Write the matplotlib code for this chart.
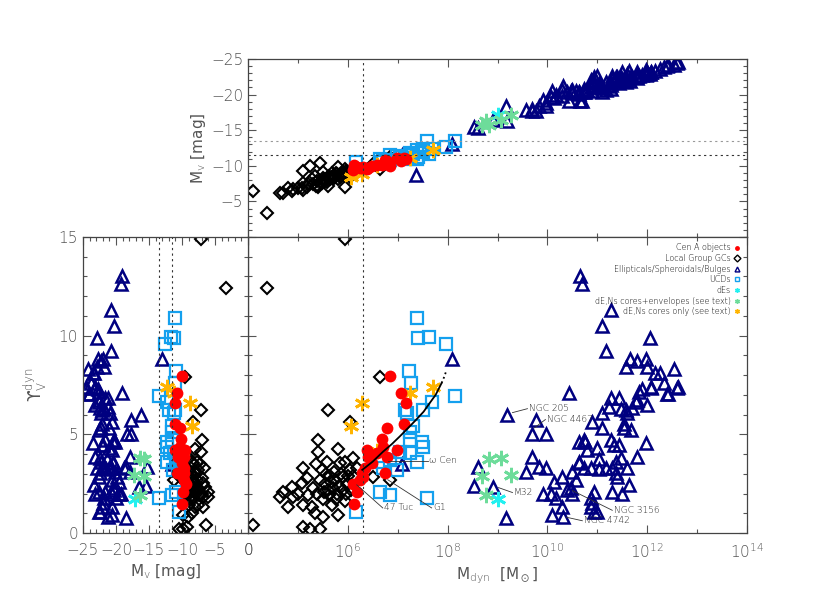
import matplotlib
matplotlib.use("Agg")
import matplotlib.pyplot as plt
import numpy as np
from matplotlib.lines import Line2D
from matplotlib.ticker import FixedLocator, MultipleLocator, NullFormatter, FixedFormatter

## data : log10(Mdyn/Msun) and dynamical M/L (V band)

cena_logm = [6.84, 7.06, 7.16, 6.78, 7.12, 6.68, 6.70, 6.98, 6.38, 6.78, 6.40, 6.48,
             6.34, 6.28, 6.74, 6.24, 6.10, 6.18, 6.12, 6.30, 6.58]
cena_ups = [7.97, 7.10, 6.60, 5.33, 5.50, 4.77, 4.37, 4.20, 4.20, 3.86, 3.86, 3.55,
            3.30, 3.05, 3.05, 2.70, 2.50, 2.10, 1.47, 2.84, 4.06]

gc_logm = [4.10, 5.60, 6.04, 5.40, 5.40, 5.80, 5.10, 5.58, 5.84, 6.10, 4.88, 4.64,
           4.80, 5.08, 5.30, 5.48, 5.64, 5.74, 5.90, 6.04, 4.90, 5.10, 5.38, 5.50,
           5.60, 5.78, 5.90, 5.68, 5.80, 5.34, 5.50, 5.10, 5.24, 5.44, 5.28, 5.18,
           5.54, 5.98, 6.18, 6.64, 6.50, 6.84, 4.38, 5.94,
           5.56, 5.66, 5.72, 5.82, 5.86, 5.96, 6.00, 5.62, 5.70, 5.52, 5.94, 6.06,
           5.76, 5.44, 5.20, 5.00, 4.70, 5.36, 5.94, 6.10]
gc_ups = [0.40, 6.24, 5.60, 4.70, 4.10, 4.26, 3.30, 3.60, 3.55, 3.80, 2.34, 1.80,
          1.30, 2.54, 2.30, 3.20, 2.90, 2.70, 2.84, 3.20, 1.80, 1.40, 2.00, 1.70,
          2.20, 2.00, 2.20, 1.40, 0.90, 1.00, 0.80, 0.30, 0.22, 0.22, 1.30, 2.80,
          2.50, 2.50, 3.30, 7.90, 2.84, 2.70, 12.40, 14.90,
          3.00, 2.60, 3.10, 2.40, 3.00, 2.00, 2.90, 1.90, 2.30, 2.10, 1.60, 2.20,
          1.70, 2.70, 1.90, 2.00, 2.10, 3.50, 3.60, 2.90]

ell_logm = [7.08, 8.08, 9.20, 9.78, 9.70, 9.98, 9.70, 9.84, 9.98, 9.58, 8.60, 8.52,
            8.90, 9.18, 9.92, 10.08, 10.18, 10.14, 10.30, 10.10, 10.32, 10.30, 10.48, 10.50,
            10.50, 10.64, 10.74, 10.88, 10.94, 10.88, 10.90, 11.00, 11.04, 11.18, 11.30, 11.40,
            11.30, 11.50, 11.60, 11.64, 11.38, 11.04, 11.28, 11.34, 11.44, 11.00, 10.80, 10.74,
            10.64, 10.64, 11.10, 10.90, 11.54, 11.68, 11.80, 11.98, 12.00, 11.80, 12.40, 12.60,
            12.34, 11.84, 12.08, 11.44, 11.28, 11.24, 11.58, 11.60, 11.70, 11.10, 11.38, 11.48,
            10.58, 10.40, 10.88, 10.94, 10.66, 10.70, 11.28, 11.10, 12.06, 11.18, 11.66, 11.80,
            11.98, 11.58, 12.00, 12.16, 12.26, 12.54, 11.90, 11.78, 11.48, 10.44, 10.76, 11.54,
            12.62, 12.42, 12.08, 7.36]
ell_ups = [3.50, 8.80, 6.00, 5.74, 5.00, 5.00, 3.86, 3.35, 3.30, 3.10, 3.35, 2.40,
           2.34, 0.76, 2.00, 2.00, 1.78, 2.60, 2.84, 0.90, 0.80, 1.30, 2.30, 2.00,
           3.10, 3.55, 3.30, 3.30, 2.10, 1.30, 1.50, 1.07, 3.25, 3.30, 3.30, 2.84,
           2.10, 2.00, 3.30, 2.44, 3.05, 3.76, 4.72, 4.47, 4.47, 4.30, 4.20, 4.72,
           4.60, 3.60, 5.33, 5.60, 5.33, 5.20, 3.86, 4.57, 6.50, 6.75, 7.05, 7.36,
           7.60, 7.15, 7.36, 6.85, 6.85, 6.40, 6.24, 6.10, 6.35, 6.10, 3.60, 3.80,
           2.70, 2.20, 1.78, 1.07, 13.0, 12.6, 11.3, 10.5, 9.90, 9.20, 8.80, 8.70,
           8.80, 8.40, 8.40, 8.10, 8.10, 8.30, 7.30, 6.65, 6.30, 7.10, 4.60, 5.50,
           7.40, 7.05, 7.40, 89.0]

ucd_logm = [7.38, 7.40, 7.62, 7.96, 7.22, 7.26, 8.14, 7.14, 7.18, 7.50, 7.68, 7.24,
            7.30, 7.48, 7.50, 7.24, 7.04, 7.24, 7.38, 6.98, 6.84, 6.70, 6.64, 6.84,
            7.58, 6.16, 6.68]
ucd_ups = [10.9, 9.90, 9.95, 9.60, 8.20, 7.60, 6.95, 6.24, 6.10, 6.24, 6.65, 5.13,
           5.40, 4.62, 4.37, 4.72, 4.10, 4.06, 3.60, 3.20, 3.70, 3.30, 2.10, 1.93,
           1.78, 1.07, 3.60]

de_logm = [9.00]
de_ups = [1.72]

den_logm = [8.82, 9.08, 8.68, 9.28, 8.76]
den_ups = [3.76, 3.80, 2.90, 2.94, 1.93]

dnc_logm = [6.28, 6.06, 7.70, 7.24, 6.58]
dnc_ups = [6.60, 5.43, 7.40, 7.10, 4.16]

# model curve
curve_logm = [6.29, 6.50, 6.71, 6.88, 7.04, 7.20, 7.37, 7.52, 7.64, 7.76, 7.88]
curve_ups = [3.20, 3.62, 4.13, 4.50, 4.89, 5.30, 5.74, 6.15, 6.58, 7.00, 7.60]
curve_ext_logm = [7.88, 7.93, 7.97]
curve_ext_ups = [7.60, 7.90, 8.19]

# named objects: label, log M of pointer start/end, Upsilon start/end
annot_names = ["\u03c9 Cen", "47 Tuc", "G1", "NGC 205", "NGC 4467", "M32", "NGC 3156", "NGC 4742"]
annot_x0 = [6.80, 6.18, 6.80, 9.30, 9.74, 9.02, 10.50, 10.38]
annot_y0 = [3.65, 2.44, 2.70, 6.10, 5.33, 2.30, 2.15, 0.80]
annot_x1 = [7.60, 6.70, 7.68, 9.60, 9.96, 9.30, 11.30, 10.70]
annot_y1 = [3.65, 1.27, 1.27, 6.30, 5.75, 2.05, 1.15, 0.62]

mv_lines = [-13.5, -11.5]
m_line = 2e6

def mv_of(logm, ups):
    # absolute V magnitude from the definition of M/L_V (Msun,V = 4.83)
    return 4.83 - 2.5 * (np.array(logm) - np.log10(np.array(ups)))

groups = [
    ("Cen A objects", cena_logm, cena_ups, dict(marker="o", ms=8.5, mfc="red", mec="red", mew=0)),
    ("Local Group GCs", gc_logm, gc_ups, dict(marker="D", ms=6.5, mfc="none", mec="black", mew=1.5)),
    ("Ellipticals/Spheroidals/Bulges", ell_logm, ell_ups, dict(marker="^", ms=9, mfc="none", mec="#000080", mew=1.8)),
    ("UCDs", ucd_logm, ucd_ups, dict(marker="s", ms=9, mfc="none", mec="#14a0ee", mew=1.6)),
    ("dEs", de_logm, de_ups, dict(marker=(6, 2, 0), ms=11, mfc="none", mec="#22f0f0", mew=2)),
    ("dE,Ns cores+envelopes (see text)", den_logm, den_ups, dict(marker=(6, 2, 0), ms=11, mfc="none", mec="#6ddc9a", mew=2)),
    ("dE,Ns cores only (see text)", dnc_logm, dnc_ups, dict(marker=(6, 2, 0), ms=11, mfc="none", mec="#ffb400", mew=2)),
]

txtcol = "#555555"
plt.rcParams["font.family"] = ["DejaVu Sans"]
plt.rcParams["font.weight"] = "light"
plt.rcParams["axes.edgecolor"] = "#444444"

fig = plt.figure(figsize=(8.3, 5.93), dpi=100)
ax_top = fig.add_axes([0.2988, 0.6003, 0.6012, 0.3002])
ax_br = fig.add_axes([0.2988, 0.1012, 0.6012, 0.4991])
ax_bl = fig.add_axes([0.1, 0.1012, 0.1988, 0.4991])

draw_order = [2, 1, 3, 4, 5, 6, 0]
for k in draw_order:
    name, lm, up, st = groups[k]
    mdyn = 10 ** np.array(lm)
    ups = np.array(up)
    mv = mv_of(lm, up)
    ax_top.plot(mdyn, mv, ls="none", **st)
    ax_br.plot(mdyn, ups, ls="none", **st)
    ax_bl.plot(mv, ups, ls="none", **st)

ax_br.plot(10 ** np.array(curve_logm), curve_ups, color="black", lw=1.3)
ax_br.plot(10 ** np.array(curve_ext_logm), curve_ext_ups, color="black", lw=1.3, ls=":")

for i in range(len(annot_names)):
    ax_br.plot([10 ** annot_x0[i], 10 ** annot_x1[i]], [annot_y0[i], annot_y1[i]], color="#333333", lw=0.6)
    ax_br.text(10 ** (annot_x1[i] + 0.03), annot_y1[i], annot_names[i], fontsize=6.5,
               color="#222222", ha="left", va="center")

# guide lines
for ax in (ax_top, ax_br):
    ax.axvline(m_line, color="#333333", lw=0.8, ls=(0, (2, 3)))
ax_top.axhline(mv_lines[0], color="#999999", lw=0.8, ls=(0, (2, 3)))
ax_top.axhline(mv_lines[1], color="#333333", lw=0.8, ls=(0, (2, 3)))
for v in mv_lines:
    ax_bl.axvline(v, color="#333333", lw=0.8, ls=(0, (2, 3)))

# axes setup
for ax in (ax_top, ax_br):
    ax.set_xscale("log")
    ax.set_xlim(1e4, 1e14)
    ax.xaxis.set_major_locator(FixedLocator([10.0 ** p for p in range(4, 15, 2)]))
    ax.xaxis.set_minor_locator(FixedLocator([10.0 ** p for p in range(5, 14, 2)]))
    ax.xaxis.set_minor_formatter(NullFormatter())

ax_top.set_ylim(0, -25.0)
ax_top.yaxis.set_major_locator(FixedLocator([-25, -20, -15, -10, -5]))
ax_top.yaxis.set_minor_locator(MultipleLocator(1))
ax_top.xaxis.set_major_formatter(NullFormatter())
ax_top.set_ylabel("M$_\\mathrm{v}$ [mag]", color=txtcol, fontsize=11, labelpad=2)

ax_br.set_ylim(0, 15)
ax_br.yaxis.set_major_locator(MultipleLocator(5))
ax_br.yaxis.set_minor_locator(MultipleLocator(1))
ax_br.yaxis.set_major_formatter(NullFormatter())
ax_br.xaxis.set_major_formatter(FixedFormatter(["0", "$10^{6}$", "$10^{8}$", "$10^{10}$", "$10^{12}$", "$10^{14}$"]))
ax_br.set_xlabel("M$_\\mathrm{dyn}$  [M$_\\odot$]", color=txtcol, fontsize=11, labelpad=3)

ax_bl.set_xlim(-25, 0)
ax_bl.set_ylim(0, 15)
ax_bl.xaxis.set_major_locator(MultipleLocator(5))
ax_bl.xaxis.set_minor_locator(MultipleLocator(1))
ax_bl.yaxis.set_major_locator(MultipleLocator(5))
ax_bl.yaxis.set_minor_locator(MultipleLocator(1))
ax_bl.set_xlabel("M$_\\mathrm{v}$ [mag]", color=txtcol, fontsize=11, labelpad=3)
ax_bl.set_ylabel("\u03d2$_\\mathrm{V}^\\mathrm{dyn}$", color=txtcol, fontsize=12, labelpad=6)

for ax in (ax_top, ax_br, ax_bl):
    ax.tick_params(which="both", direction="in", top=True, right=True, colors="#555555",
                   labelcolor=txtcol, labelsize=11, width=0.8)
    ax.tick_params(which="major", length=6)
    ax.tick_params(which="minor", length=3)
    ax.tick_params(axis="x", pad=7)
    for s in ax.spines.values():
        s.set_linewidth(0.9)

# legend
handles = []
for name, lm, up, st in groups:
    st2 = dict(st)
    st2["ms"] = 3.5
    st2["mew"] = min(st2["mew"], 1.0)
    handles.append(Line2D([], [], ls="none", label=name, **st2))
ax_br.legend(handles=handles, loc="upper right", markerfirst=False, frameon=False,
             fontsize=5.8, handlelength=0.8, handletextpad=0.4, labelspacing=0.2,
             borderaxespad=0.4)

fig.savefig("out.png", dpi=100)
